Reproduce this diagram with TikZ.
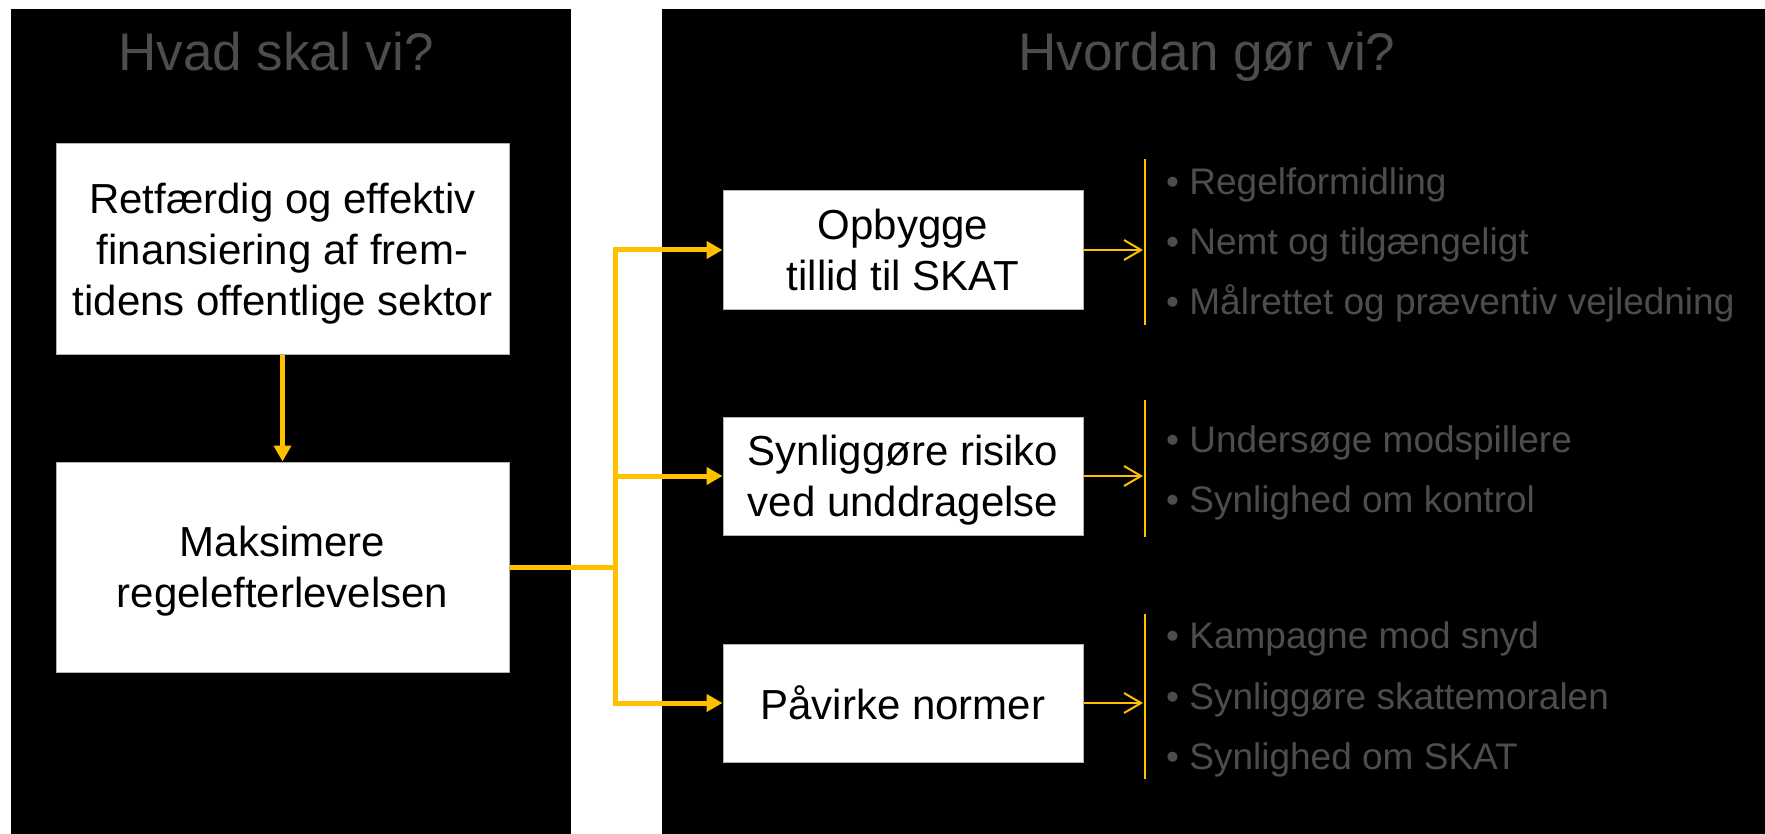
\documentclass[tikz,border=0pt]{standalone}
\usepackage{fontspec}
\setmainfont{Liberation Sans}
\usepackage{xcolor}
\usetikzlibrary{arrows.meta,positioning}
\definecolor{gold}{RGB}{255,192,0}
\definecolor{greytext}{RGB}{77,77,77}

\begin{document}
\begin{tikzpicture}[x=1pt,y=-1pt,
    box/.style={draw=gray!60,line width=1pt,fill=white,align=center,inner sep=0pt,text depth=0pt,font=\fontsize{42}{51}\selectfont},
    head/.style={greytext,anchor=base,inner sep=0pt,font=\fontsize{53}{60}\selectfont},
    link/.style={gold,line width=5pt,line join=miter,-{Triangle[length=16pt,width=17pt]}},
    hint/.style={gold,line width=2pt,-{Straight Barb[length=17pt,width=20pt]}},
    item/.style={greytext,anchor=base west,inner sep=0pt,font=\fontsize{37}{44}\selectfont}]
            \useasboundingbox (0,0) rectangle (1765,834);
            \fill[black] (11,9) rectangle (571,834);
            \fill[black] (662,9) rectangle (1765,834);

            \node[head] (askL) at (276,71) {Hvad skal vi?};
            \node[head] (askR) at (1207,71) {Hvordan gør vi?};

            \node[box,minimum width=453pt,minimum height=211pt] (goal) at (282.5,249.5) {Retfærdig og effektiv\\finansiering af frem-\\tidens offentlige sektor};
            \node[box,minimum width=453pt,minimum height=210pt] (aim) at (282.5,567) {Maksimere\\regelefterlevelsen};

            \node[box,minimum width=360pt,minimum height=119pt] (trust) at (903,250) {Opbygge\\tillid til SKAT};
            \node[box,minimum width=360pt,minimum height=118pt] (risk) at (903,476) {Synliggøre risiko\\ved unddragelse};
            \node[box,minimum width=360pt,minimum height=118pt] (norm) at (903,703) {Påvirke normer};

            \coordinate (fork) at (615,567);
            \draw[link] (goal.south) -- (aim.north);
            \draw[link] (aim.east) -- (fork) |- (trust.west);
            \draw[link] (aim.east) -- (fork) |- (risk.west);
            \draw[link] (aim.east) -- (fork) |- (norm.west);

            \draw[gold,line width=2pt] (1145,159) -- (1145,325);
            \draw[gold,line width=2pt] (1145,400) -- (1145,537);
            \draw[gold,line width=2pt] (1145,614) -- (1145,779);
            \coordinate (barT) at (1143,250);
            \coordinate (barR) at (1143,476);
            \coordinate (barN) at (1143,703);
            \draw[hint] (trust.east) -- (barT);
            \draw[hint] (risk.east) -- (barR);
            \draw[hint] (norm.east) -- (barN);

            \node[item] (t1) at (1166,195) {• Regelformidling};
            \node[item] (t2) at (1166,255) {• Nemt og tilgængeligt};
            \node[item] (t3) at (1166,315) {• Målrettet og præventiv vejledning};
            \node[item] (r1) at (1166,452) {• Undersøge modspillere};
            \node[item] (r2) at (1166,512) {• Synlighed om kontrol};
            \node[item] (n1) at (1166,648) {• Kampagne mod snyd};
            \node[item] (n2) at (1166,709) {• Synliggøre skattemoralen};
            \node[item] (n3) at (1166,769) {• Synlighed om SKAT};
        \end{tikzpicture}
\end{document}
